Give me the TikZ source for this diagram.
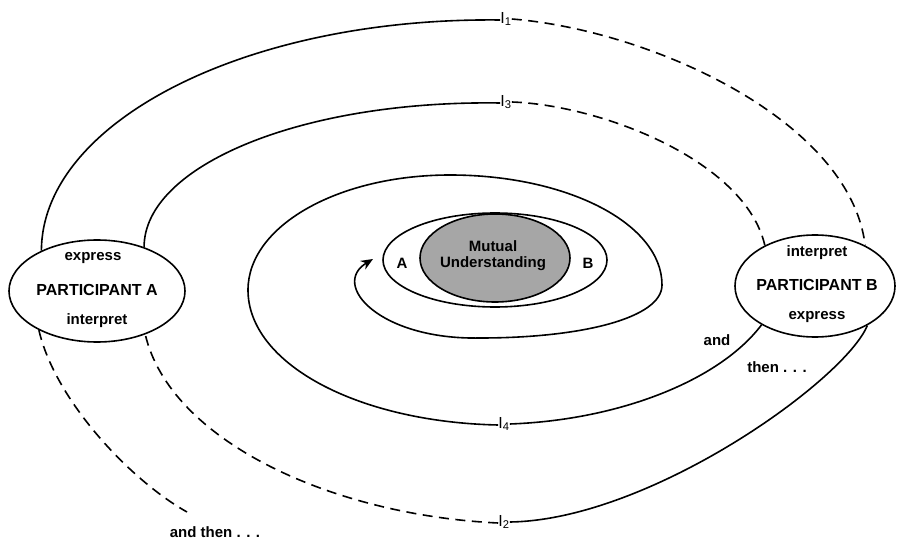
\documentclass[tikz,border=0pt]{standalone}
\usepackage{fontspec}
\setmainfont{Liberation Sans}
\usetikzlibrary{shapes.geometric,arrows.meta}
\begin{document}
\begin{tikzpicture}[x=1pt,y=-1pt,
  ln/.style={line width=1.6pt},
  dsh/.style={line width=1.6pt, dash pattern=on 10pt off 6.5pt},
  part/.style={draw, ellipse, line width=1.6pt, inner sep=0pt},
  txt/.style={font=\fontsize{15}{15}\selectfont\bfseries, inner sep=0pt},
  big/.style={font=\fontsize{16}{16}\selectfont\bfseries, inner sep=0pt},
  lab/.style={font=\fontsize{16}{16}\selectfont, inner sep=0pt}]
\useasboundingbox (0,0) rectangle (897,540);
% participants
\node[part, minimum width=176pt, minimum height=102pt] (A) at (97,291) {};
\node[part, minimum width=160pt, minimum height=102pt] (B) at (815,286) {};
\node[txt] (Aexp) at (93,258) {express};
\node[big] (Aname) at (97,290) {PARTICIPANT A};
\node[txt] (Aint) at (97,321) {interpret};
\node[txt] (Bint) at (817,253) {interpret};
\node[big] (Bname) at (817,285) {PARTICIPANT B};
\node[txt] (Bexp) at (817,317) {express};
% centre
\node[part, minimum width=224pt, minimum height=94pt] (mid) at (495,260) {};
\node[part, fill=black!35, minimum width=150pt, minimum height=88pt, align=center,
      font=\fontsize{15}{16}\selectfont\bfseries] (MU) at (495,258) {};
\node[align=center, inner sep=0pt, font=\fontsize{15}{16}\selectfont\bfseries] (MUt) at (493,256) {Mutual\\Understanding};
\node[txt] (la) at (402,263) {A};
\node[txt] (lb) at (588,263) {B};
% labels
\node[lab] (I1) at (506,19) {I\textsubscript{1}};
\node[lab] (I3) at (506,102) {I\textsubscript{3}};
\node[lab] (I4) at (504,424) {I\textsubscript{4}};
\node[lab] (I2) at (504,522) {I\textsubscript{2}};
\node[txt] (and1) at (717,340) {and};
\node[txt] (then1) at (777,367) {then . . .};
\node[txt] (andthen) at (215,532) {and then . . .};
\coordinate (endA) at (187,512);
\coordinate (tip) at (373,259);
% curves
\draw[ln] (A.144) .. controls (42,122) and (246,17) .. ([yshift=-1pt]I1.west);
\draw[dsh] (I1.east) .. controls (650,30) and (850,120) .. (B.39);
\draw[ln] (A.43) .. controls (144,166) and (301,100) .. ([yshift=-1pt]I3.west);
\draw[dsh] (I3.east) .. controls (600,105) and (745,160) .. (B.141);
\draw[ln] (B.323) .. controls (845,380) and (650,520) .. (I2.east);
\draw[dsh] ([yshift=-1pt]I2.west) .. controls (330,515) and (170,440) .. (A.318);
\draw[dsh] (A.214) .. controls (55,400) and (130,480) .. (endA);
\draw[ln] (B.216) .. controls (720,380) and (620,420) .. (I4.east);
\draw[ln, -{Stealth[length=12pt,width=10pt]}] ([yshift=-1pt]I4.west)
  .. controls (356,422) and (248,363) .. (248,290)
  .. controls (248,226) and (338,175) .. (450,175)
  .. controls (568,175) and (662,224) .. (662,285)
  .. controls (662,318) and (582,338) .. (480,338)
  .. controls (380,340) and (330,285) .. (tip);
\end{tikzpicture}
\end{document}
